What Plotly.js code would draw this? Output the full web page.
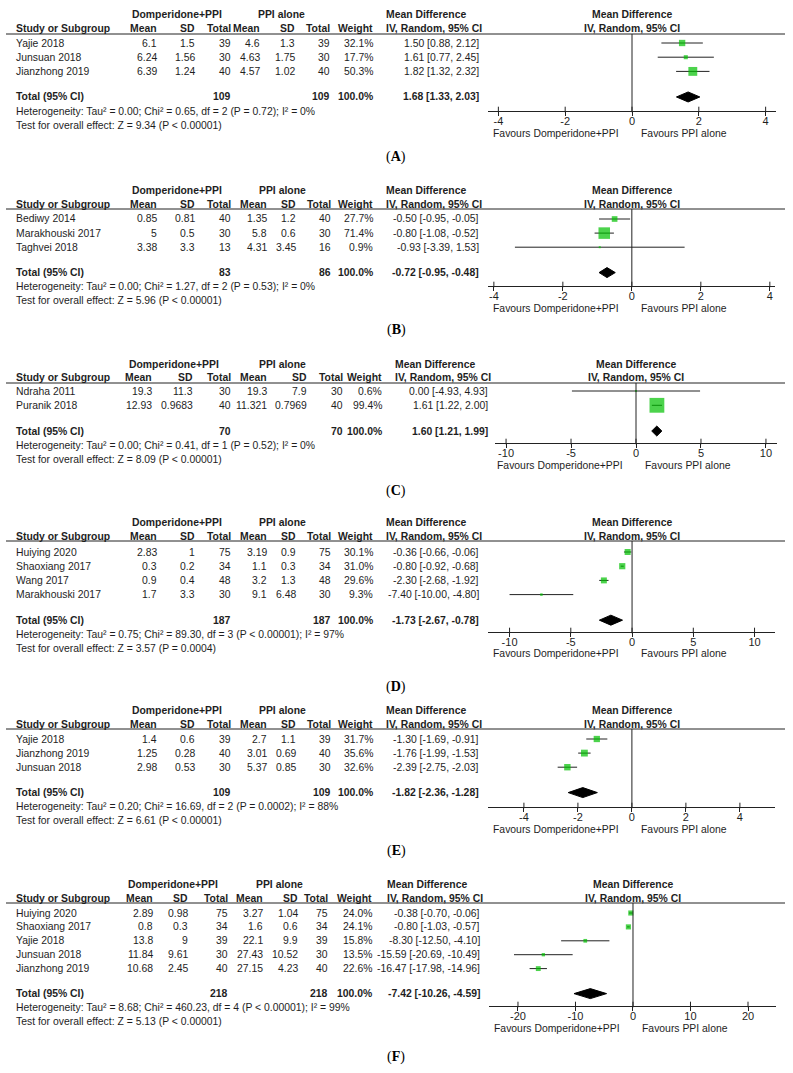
<!DOCTYPE html>
<html><head><meta charset="utf-8">
<script src="https://cdn.plot.ly/plotly-3.0.1.min.js"></script>
<style>html,body{margin:0;padding:0;background:#fff}#chart{width:793px;height:1073px}</style>
</head><body><div id="chart"></div>
<script>
// ---------------- DATA ----------------
const panelLetters = ["A","B","C","D","E","F"];
const favoursLabels = ["Favours Domperidone+PPI","Favours PPI alone"];

// Panel A
const studiesA = ["Yajie 2018","Junsuan 2018","Jianzhong 2019"];
const meanTA = [6.1,6.24,6.39], sdTA = [1.5,1.56,1.24], nTA = [39,30,40];
const meanCA = [4.6,4.63,4.57], sdCA = [1.3,1.75,1.02], nCA = [39,30,40];
const weightA = [32.1,17.7,50.3];
const mdA = [1.50,1.61,1.82], loA = [0.88,0.77,1.32], hiA = [2.12,2.45,2.32];
const totalA = [1.68,1.33,2.03], totalNA = [109,109];
const hetA = "Heterogeneity: Tau² = 0.00; Chi² = 0.65, df = 2 (P = 0.72); I² = 0%";
const testA = "Test for overall effect: Z = 9.34 (P < 0.00001)";
const ticksA = [-4,-2,0,2,4];

// Panel B
const studiesB = ["Bediwy 2014","Marakhouski 2017","Taghvei 2018"];
const meanTB = [0.85,5,3.38], sdTB = [0.81,0.5,3.3], nTB = [40,30,13];
const meanCB = [1.35,5.8,4.31], sdCB = [1.2,0.6,3.45], nCB = [40,30,16];
const weightB = [27.7,71.4,0.9];
const mdB = [-0.50,-0.80,-0.93], loB = [-0.95,-1.08,-3.39], hiB = [-0.05,-0.52,1.53];
const totalB = [-0.72,-0.95,-0.48], totalNB = [83,86];
const hetB = "Heterogeneity: Tau² = 0.00; Chi² = 1.27, df = 2 (P = 0.53); I² = 0%";
const testB = "Test for overall effect: Z = 5.96 (P < 0.00001)";
const ticksB = [-4,-2,0,2,4];

// Panel C
const studiesC = ["Ndraha 2011","Puranik 2018"];
const meanTC = [19.3,12.93], sdTC = [11.3,0.9683], nTC = [30,40];
const meanCC = [19.3,11.321], sdCC = [7.9,0.7969], nCC = [30,40];
const weightC = [0.6,99.4];
const mdC = [0.00,1.61], loC = [-4.93,1.22], hiC = [4.93,2.00];
const totalC = [1.60,1.21,1.99], totalNC = [70,70];
const hetC = "Heterogeneity: Tau² = 0.00; Chi² = 0.41, df = 1 (P = 0.52); I² = 0%";
const testC = "Test for overall effect: Z = 8.09 (P < 0.00001)";
const ticksC = [-10,-5,0,5,10];

// Panel D
const studiesD = ["Huiying 2020","Shaoxiang 2017","Wang 2017","Marakhouski 2017"];
const meanTD = [2.83,0.3,0.9,1.7], sdTD = [1,0.2,0.4,3.3], nTD = [75,34,48,30];
const meanCD = [3.19,1.1,3.2,9.1], sdCD = [0.9,0.3,1.3,6.48], nCD = [75,34,48,30];
const weightD = [30.1,31.0,29.6,9.3];
const mdD = [-0.36,-0.80,-2.30,-7.40], loD = [-0.66,-0.92,-2.68,-10.00], hiD = [-0.06,-0.68,-1.92,-4.80];
const totalD = [-1.73,-2.67,-0.78], totalND = [187,187];
const hetD = "Heterogeneity: Tau² = 0.75; Chi² = 89.30, df = 3 (P < 0.00001); I² = 97%";
const testD = "Test for overall effect: Z = 3.57 (P = 0.0004)";
const ticksD = [-10,-5,0,5,10];

// Panel E
const studiesE = ["Yajie 2018","Jianzhong 2019","Junsuan 2018"];
const meanTE = [1.4,1.25,2.98], sdTE = [0.6,0.28,0.53], nTE = [39,40,30];
const meanCE = [2.7,3.01,5.37], sdCE = [1.1,0.69,0.85], nCE = [39,40,30];
const weightE = [31.7,35.6,32.6];
const mdE = [-1.30,-1.76,-2.39], loE = [-1.69,-1.99,-2.75], hiE = [-0.91,-1.53,-2.03];
const totalE = [-1.82,-2.36,-1.28], totalNE = [109,109];
const hetE = "Heterogeneity: Tau² = 0.20; Chi² = 16.69, df = 2 (P = 0.0002); I² = 88%";
const testE = "Test for overall effect: Z = 6.61 (P < 0.00001)";
const ticksE = [-4,-2,0,2,4];

// Panel F
const studiesF = ["Huiying 2020","Shaoxiang 2017","Yajie 2018","Junsuan 2018","Jianzhong 2019"];
const meanTF = [2.89,0.8,13.8,11.84,10.68], sdTF = [0.98,0.3,9,9.61,2.45], nTF = [75,34,39,30,40];
const meanCF = [3.27,1.6,22.1,27.43,27.15], sdCF = [1.04,0.6,9.9,10.52,4.23], nCF = [75,34,39,30,40];
const weightF = [24.0,24.1,15.8,13.5,22.6];
const mdF = [-0.38,-0.80,-8.30,-15.59,-16.47], loF = [-0.70,-1.03,-12.50,-20.69,-17.98], hiF = [-0.06,-0.57,-4.10,-10.49,-14.96];
const totalF = [-7.42,-10.26,-4.59], totalNF = [218,218];
const hetF = "Heterogeneity: Tau² = 8.68; Chi² = 460.23, df = 4 (P < 0.00001); I² = 99%";
const testF = "Test for overall effect: Z = 5.13 (P < 0.00001)";
const ticksF = [-20,-10,0,10,20];

// ---------------- LAYOUT GEOMETRY (pixels) ----------------
const geom = [
 {y0:43, step:14.2, lineY:34, axisY:111, labelY:157, plot:[488,776], range:[-4.31,4.31],
  c:[157,195,231,260,295,330,373], mdL:386, mdR:479, dompC:177, ppiC:281},
 {y0:219, step:14.1, lineY:209, axisY:286, labelY:330, plot:[488,775], range:[-4.17,4.15],
  c:[157,195,231,267,296,331,373], mdL:386, mdR:479, dompC:177, ppiC:282},
 {y0:391, step:14.3, lineY:383, axisY:443, labelY:491, plot:[495,777], range:[-10.85,10.85],
  c:[152,193,231,267,307,343,382], mdL:395, mdR:488, dompC:174, ppiC:282},
 {y0:552, step:14.2, lineY:541, axisY:632, labelY:687, plot:[488,775], range:[-11.76,11.67],
  c:[157,195,231,267,296,331,373], mdL:386, mdR:479, dompC:177, ppiC:282},
 {y0:739, step:14.1, lineY:729, axisY:807, labelY:851, plot:[488,775], range:[-5.33,5.30],
  c:[157,195,231,267,296,331,373], mdL:386, mdR:479, dompC:177, ppiC:282},
 {y0:913, step:13.9, lineY:903, axisY:1006, labelY:1057, plot:[489,776], range:[-25.04,24.87],
  c:[153,188,228,263,298,328,372], mdL:387, mdR:480, dompC:173, ppiC:279}
];

const panels = [
 {studies:studiesA, mT:meanTA, sT:sdTA, nT:nTA, mC:meanCA, sC:sdCA, nC:nCA, w:weightA, md:mdA, lo:loA, hi:hiA, tot:totalA, totN:totalNA, het:hetA, test:testA, ticks:ticksA},
 {studies:studiesB, mT:meanTB, sT:sdTB, nT:nTB, mC:meanCB, sC:sdCB, nC:nCB, w:weightB, md:mdB, lo:loB, hi:hiB, tot:totalB, totN:totalNB, het:hetB, test:testB, ticks:ticksB},
 {studies:studiesC, mT:meanTC, sT:sdTC, nT:nTC, mC:meanCC, sC:sdCC, nC:nCC, w:weightC, md:mdC, lo:loC, hi:hiC, tot:totalC, totN:totalNC, het:hetC, test:testC, ticks:ticksC},
 {studies:studiesD, mT:meanTD, sT:sdTD, nT:nTD, mC:meanCD, sC:sdCD, nC:nCD, w:weightD, md:mdD, lo:loD, hi:hiD, tot:totalD, totN:totalND, het:hetD, test:testD, ticks:ticksD},
 {studies:studiesE, mT:meanTE, sT:sdTE, nT:nTE, mC:meanCE, sC:sdCE, nC:nCE, w:weightE, md:mdE, lo:loE, hi:hiE, tot:totalE, totN:totalNE, het:hetE, test:testE, ticks:ticksE},
 {studies:studiesF, mT:meanTF, sT:sdTF, nT:nTF, mC:meanCF, sC:sdCF, nC:nCF, w:weightF, md:mdF, lo:loF, hi:hiF, tot:totalF, totN:totalNF, het:hetF, test:testF, ticks:ticksF}
];

// ---------------- BUILD ----------------
const W = 793, H = 1073;
const FONT = "Liberation Sans, Arial, Helvetica, sans-serif";
const SERIF = "Liberation Serif, Times New Roman, serif";
const TXT = "#1e1e1e";
const FS = 10.4;
const GREEN = "#00c000";
const px = x => x / W, py = y => 1 - y / H;

const annotations = [], shapes = [], traces = [];
const layout = {
  width: W, height: H, margin: {l:0, r:0, t:0, b:0},
  paper_bgcolor: "#fff", plot_bgcolor: "rgba(0,0,0,0)", showlegend: false,
  annotations, shapes
};

function txt(x, y, text, anchor, bold, extra) {
  annotations.push(Object.assign({
    xref: "paper", yref: "paper", x: px(x), y: py(y),
    text: bold ? "<b>" + text + "</b>" : text,
    showarrow: false, xanchor: anchor, yanchor: "middle",
    align: anchor === "center" ? "center" : anchor,
    borderpad: 0, borderwidth: 0,
    font: {family: FONT, size: FS, color: TXT}
  }, extra || {}));
}
const f2 = v => v.toFixed(2);
const ciText = (m, l, h) => f2(m) + " [" + f2(l) + ", " + f2(h) + "]";

panels.forEach((p, k) => {
  const g = geom[k];
  const n = p.studies.length;
  const sfx = k === 0 ? "" : String(k + 1);
  const xa = "x" + sfx, ya = "y" + sfx;
  const rowY = i => g.y0 + i * g.step;
  const totIdx = n + 0.8;

  layout["xaxis" + sfx] = {
    domain: [px(g.plot[0]), px(g.plot[1])], range: g.range, anchor: ya,
    tickvals: p.ticks, ticktext: p.ticks.map(String),
    ticks: "outside", ticklen: 4, tickwidth: 1, tickcolor: "#222",
    ticklabelstandoff: -4,
    showline: true, linecolor: "#222", linewidth: 1,
    showgrid: false, zeroline: false, fixedrange: true,
    tickfont: {family: FONT, size: 11, color: TXT}
  };
  layout["yaxis" + sfx] = {
    domain: [py(g.axisY), py(g.lineY)],
    range: [(g.axisY - g.y0) / g.step, (g.lineY - g.y0) / g.step],
    visible: false, fixedrange: true
  };

  // CI lines
  const cx = [], cy = [];
  p.md.forEach((m, i) => { cx.push(p.lo[i], p.hi[i], null); cy.push(i, i, null); });
  traces.push({type: "scatter", mode: "lines", x: cx, y: cy, xaxis: xa, yaxis: ya,
    line: {color: "#222", width: 1}, hoverinfo: "skip"});
  // tick crosses above the axis line (upper half of the RevMan-style ticks)
  traces.push({type: "scatter", mode: "markers", x: p.ticks, y: p.ticks.map(() => (g.axisY - 1.5 - g.y0) / g.step),
    xaxis: xa, yaxis: ya, hoverinfo: "skip", cliponaxis: false,
    marker: {symbol: "line-ns", size: 4, line: {color: "#222", width: 1}}});
  // squares
  traces.push({type: "scatter", mode: "markers", x: p.md, y: p.md.map((m, i) => i),
    xaxis: xa, yaxis: ya, hoverinfo: "skip",
    marker: {symbol: "square", color: GREEN, line: {width: 0},
      size: p.w.map(w => Math.max(2, 0.47 * Math.pow(w, 0.75)))}});
  // diamond
  const h = 5 / g.step;
  traces.push({type: "scatter", mode: "lines", fill: "toself", fillcolor: "#000",
    x: [p.tot[1], p.tot[0], p.tot[2], p.tot[0], p.tot[1]],
    y: [totIdx, totIdx - h, totIdx, totIdx + h, totIdx],
    xaxis: xa, yaxis: ya, line: {color: "#000", width: 1}, hoverinfo: "skip"});

  // header line & zero line
  shapes.push({type: "line", xref: "paper", yref: "paper", x0: px(6), x1: px(785),
    y0: py(g.lineY), y1: py(g.lineY), line: {color: "#222", width: 1}});
  shapes.push({type: "line", xref: xa, yref: ya + " domain", x0: 0, x1: 0, y0: 0, y1: 1,
    line: {color: "#222", width: 1}});

  // headers
  const h1 = g.lineY - 19, h2 = g.lineY - 5;
  const plotC = (g.plot[0] + g.plot[1]) / 2;
  txt(g.dompC, h1, "Domperidone+PPI", "center", true);
  txt(g.ppiC, h1, "PPI alone", "center", true);
  txt(g.mdL, h1, "Mean Difference", "left", true);
  txt(plotC, h1, "Mean Difference", "center", true);
  txt(16, h2, "Study or Subgroup", "left", true);
  ["Mean","SD","Total","Mean","SD","Total","Weight"].forEach((s, j) => txt(g.c[j], h2, s, "right", true));
  txt(g.mdL, h2, "IV, Random, 95% CI", "left", true);
  txt(plotC, h2, "IV, Random, 95% CI", "center", true);

  // rows
  p.studies.forEach((s, i) => {
    const y = rowY(i);
    txt(16, y, s, "left");
    [p.mT[i], p.sT[i], p.nT[i], p.mC[i], p.sC[i], p.nC[i]].forEach((v, j) => txt(g.c[j], y, String(v), "right"));
    txt(g.c[6], y, p.w[i].toFixed(1) + "%", "right");
    txt(g.mdR, y, ciText(p.md[i], p.lo[i], p.hi[i]), "right");
  });

  // total row
  const ty = rowY(totIdx);
  txt(16, ty, "Total (95% CI)", "left", true);
  txt(g.c[2], ty, String(p.totN[0]), "right", true);
  txt(g.c[5], ty, String(p.totN[1]), "right", true);
  const wsum = p.w.reduce((a, b) => a + b, 0);
  txt(g.c[6], ty, (Math.round(wsum / 10) * 10).toFixed(1) + "%", "right", true);
  txt(g.mdR, ty, ciText(p.tot[0], p.tot[1], p.tot[2]), "right", true);
  txt(16, rowY(n + 1.8), p.het, "left");
  txt(16, rowY(n + 2.8), p.test, "left");

  // favours
  annotations.push({xref: xa, yref: "paper", x: 0, xshift: -12, y: py(g.axisY + 22),
    text: favoursLabels[0], showarrow: false, xanchor: "right", yanchor: "middle",
    borderpad: 0, font: {family: FONT, size: FS, color: TXT}});
  annotations.push({xref: xa, yref: "paper", x: 0, xshift: 8, y: py(g.axisY + 22),
    text: favoursLabels[1], showarrow: false, xanchor: "left", yanchor: "middle",
    borderpad: 0, font: {family: FONT, size: FS, color: TXT}});

  // panel label
  txt(396, g.labelY, "(<b>" + panelLetters[k] + "</b>)", "center", false,
    {font: {family: SERIF, size: 14, color: "#000"}});
});

Plotly.newPlot("chart", traces, layout, {staticPlot: true, displayModeBar: false});
</script>
</body></html>
